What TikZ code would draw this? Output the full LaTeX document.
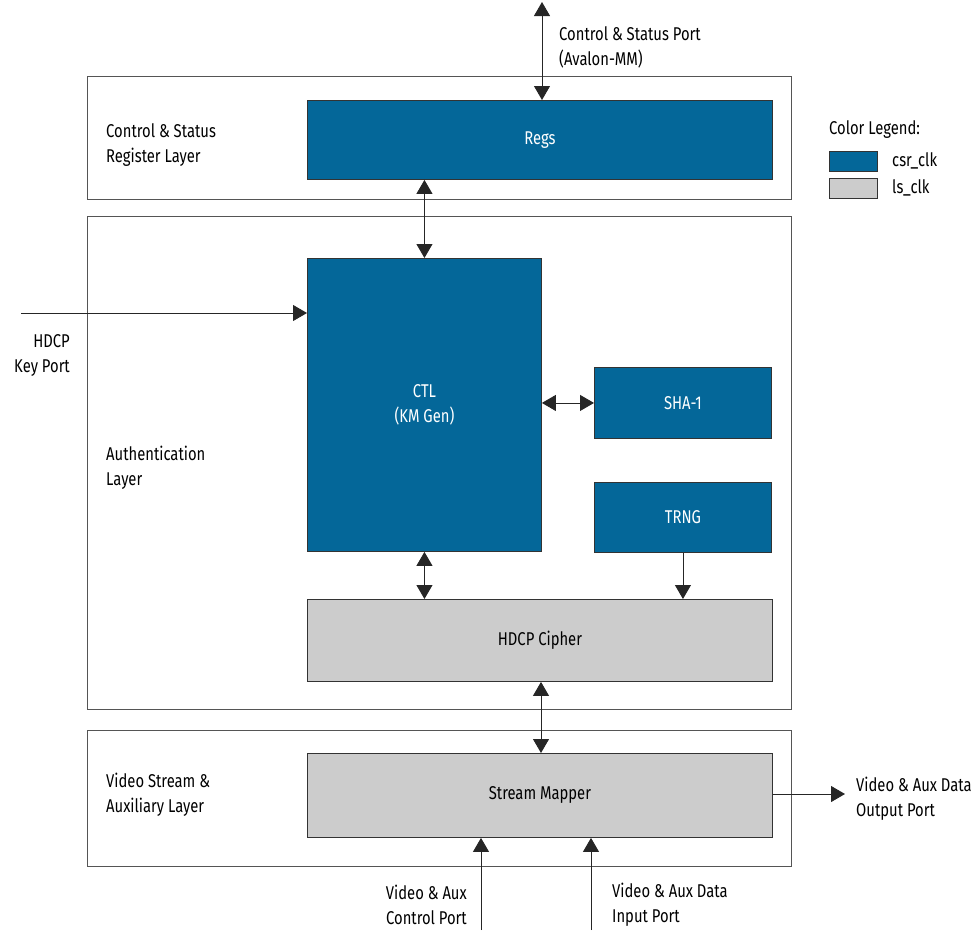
\documentclass[tikz,border=0pt]{standalone}
\usepackage{fontspec}
\setmainfont[FakeStretch=0.8]{Fira Sans}
\usetikzlibrary{arrows.meta}
\definecolor{csrblue}{RGB}{4,103,153}
\definecolor{lsgrey}{RGB}{204,204,204}
\definecolor{layerline}{RGB}{85,85,85}
\begin{document}
\begin{tikzpicture}[x=1pt,y=-1pt,
  every node/.style={font=\fontsize{18.5}{25}\selectfont, inner sep=0pt},
  layerbox/.style={draw=layerline, line width=1pt, anchor=north west},
  blk/.style={draw=black!80, line width=0.9pt, anchor=north west, align=center},
  blueblk/.style={blk, fill=csrblue, text=white},
  greyblk/.style={blk, fill=lsgrey, text=black},
  lbl/.style={align=left, anchor=west},
  conn/.style={line width=0.9pt, black!85},
  tip/.style={-{Triangle[width=16pt,length=14pt]}},
  dtip/.style={{Triangle[width=16pt,length=14pt]}-{Triangle[width=16pt,length=14pt]}}
]
\useasboundingbox (0,0) rectangle (978,930);

% layers
\node[layerbox, minimum width=704pt, minimum height=123pt] (csrlayer) at (87,76) {};
\node[layerbox, minimum width=704pt, minimum height=493pt] (authlayer) at (87,216) {};
\node[layerbox, minimum width=704pt, minimum height=136pt] (vidlayer) at (87,730) {};

% blocks
\node[blueblk, minimum width=465pt, minimum height=79pt] (regs) at (307,100) {Regs};
\node[blueblk, minimum width=234pt, minimum height=293pt] (ctl) at (307,258) {CTL\\(KM Gen)};
\node[blueblk, minimum width=177pt, minimum height=71pt] (sha) at (594,367) {SHA-1};
\node[blueblk, minimum width=177pt, minimum height=70pt] (trng) at (594,482) {TRNG};
\node[greyblk, minimum width=465pt, minimum height=82pt] (cipher) at (307,599) {HDCP Cipher};
\node[greyblk, minimum width=465pt, minimum height=84pt] (mapper) at (307,753) {Stream Mapper};

% layer labels
\node[lbl] (csrlbl) at (106,145) {Control \& Status\\Register Layer};
\node[lbl] (authlbl) at (106,468) {Authentication\\Layer};
\node[lbl] (vidlbl) at (106,795) {Video Stream \&\\Auxiliary Layer};

% port labels
\node[lbl] (csrport) at (559,47) {Control \& Status Port\\(Avalon-MM)};
\node[align=right, anchor=east] (keyport) at (70,355) {HDCP\\Key Port};
\node[lbl] (outport) at (856,799) {Video \& Aux Data\\Output Port};
\node[align=right, anchor=east] (ctrlport) at (467,905) {Video \& Aux\\Control Port};
\node[lbl] (inport) at (612,905) {Video \& Aux Data\\Input Port};

% legend
\node[lbl] (legtitle) at (829,130) {Color Legend:};
\node[draw=black!80, line width=0.9pt, fill=csrblue, anchor=north west, minimum width=48pt, minimum height=20pt] (legblue) at (829,151) {};
\node[draw=black!80, line width=0.9pt, fill=lsgrey, anchor=north west, minimum width=48pt, minimum height=20pt] (leggrey) at (829,178) {};
\node[lbl] (legcsr) at (892,161) {csr\_clk};
\node[lbl] (legls) at (892,188) {ls\_clk};

% connector end points
\coordinate (csrtop) at (542,2);
\coordinate (keyin) at (21,313);
\coordinate (outend) at (845,794);
\coordinate (in1) at (481,930);
\coordinate (in2) at (591,930);
\coordinate (cmx) at (541,700);

% connectors
\draw[conn, dtip] (csrtop) -- (csrtop |- regs.north);
\draw[conn, dtip] (ctl.north |- regs.south) -- (ctl.north);
\draw[conn, tip] (keyin) -- (keyin -| ctl.west);
\draw[conn, dtip] (ctl.east |- sha.west) -- (sha.west);
\draw[conn, dtip] (ctl.south) -- (ctl.south |- cipher.north);
\draw[conn, tip] (trng.south) -- (trng.south |- cipher.north);
\draw[conn, dtip] (cmx |- cipher.south) -- (cmx |- mapper.north);
\draw[conn, tip] (mapper.east |- outend) -- (outend);
\draw[conn, tip] (in1) -- (in1 |- mapper.south);
\draw[conn, tip] (in2) -- (in2 |- mapper.south);
\end{tikzpicture}
\end{document}
